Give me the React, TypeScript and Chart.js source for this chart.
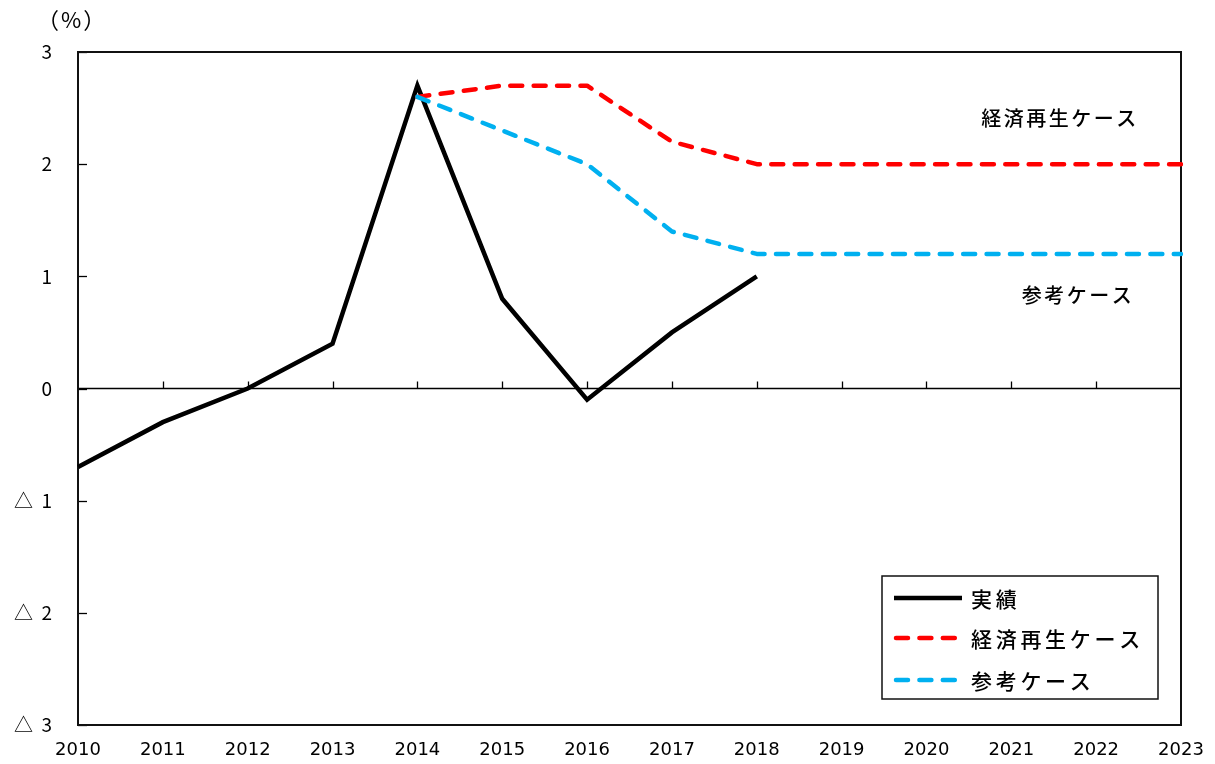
import React, { useEffect, useRef } from 'react';
import { Chart, registerables } from 'chart.js';

Chart.register(...registerables);

const years = ['2010', '2011', '2012', '2013', '2014', '2015', '2016', '2017', '2018', '2019', '2020', '2021', '2022', '2023'];
const actualValues = [-0.7, -0.3, 0.0, 0.4, 2.7, 0.8, -0.1, 0.5, 1.0, null, null, null, null, null];
const revivalValues = [null, null, null, null, 2.6, 2.7, 2.7, 2.2, 2.0, 2.0, 2.0, 2.0, 2.0, 2.0];
const referenceValues = [null, null, null, null, 2.6, 2.3, 2.0, 1.4, 1.2, 1.2, 1.2, 1.2, 1.2, 1.2];
const seriesNames = ['実績', '経済再生ケース', '参考ケース'];
const seriesColors = ['#000000', '#FF0000', '#00B0F0'];
const yMin = -3;
const yMax = 3;
const unitLabel = '（%）';
const annotationLabels = ['経済再生ケース', '参考ケース'];

const NUM_FONT = "'DejaVu Sans', 'Noto Sans CJK JP', sans-serif";
const JP_FONT = "'Noto Sans CJK JP', 'Noto Sans', sans-serif";

const decorPlugin = {
  id: 'decor',
  beforeDatasetsDraw(chart: any) {
    const { ctx, chartArea } = chart;
    const xs = chart.scales.x;
    const ys = chart.scales.y;
    const y0 = ys.getPixelForValue(0);
    ctx.save();
    ctx.strokeStyle = '#000';
    ctx.lineWidth = 1.5;
    ctx.beginPath();
    ctx.moveTo(chartArea.left, y0);
    ctx.lineTo(chartArea.right, y0);
    ctx.stroke();
    ctx.lineWidth = 1.3;
    for (let i = 1; i < years.length - 1; i++) {
      const x = Math.round(xs.getPixelForValue(i)) + 0.5;
      ctx.beginPath();
      ctx.moveTo(x, y0);
      ctx.lineTo(x, y0 - 7);
      ctx.stroke();
    }
    for (let v = yMin; v <= yMax; v++) {
      const y = Math.round(ys.getPixelForValue(v)) + 0.5;
      ctx.beginPath();
      ctx.moveTo(chartArea.left, y);
      ctx.lineTo(chartArea.left + 9, y);
      ctx.stroke();
    }
    ctx.lineWidth = 2;
    ctx.strokeStyle = '#111';
    ctx.strokeRect(chartArea.left, chartArea.top, chartArea.right - chartArea.left, chartArea.bottom - chartArea.top);
    ctx.restore();
  },
  afterDraw(chart: any) {
    const { ctx } = chart;
    ctx.save();
    ctx.fillStyle = '#000';
    ctx.font = `22px ${JP_FONT}`;
    (ctx as any).letterSpacing = '2px';
    ctx.textAlign = 'left';
    ctx.textBaseline = 'middle';
    ctx.fillText(unitLabel, 37, 20);

    ctx.font = `500 20px ${JP_FONT}`;
    (ctx as any).letterSpacing = '2.5px';
    ctx.textAlign = 'center';
    ctx.fillText(annotationLabels[0], 1060, 118);
    ctx.fillText(annotationLabels[1], 1078, 295);

    const lx = 882, ly = 576, lw = 276, lh = 123;
    ctx.fillStyle = '#fff';
    ctx.fillRect(lx, ly, lw, lh);
    ctx.strokeStyle = '#111';
    ctx.lineWidth = 1.5;
    ctx.strokeRect(lx, ly, lw, lh);
    const rows = [598, 638, 680];
    chart.data.datasets.forEach((ds: any, i: number) => {
      const y = rows[i];
      ctx.save();
      ctx.strokeStyle = ds.borderColor;
      ctx.lineWidth = ds.borderWidth;
      ctx.lineCap = i === 0 ? 'butt' : 'round';
      ctx.setLineDash(ds.borderDash || []);
      ctx.beginPath();
      ctx.moveTo(i === 0 ? 894 : 896, y);
      ctx.lineTo(962, y);
      ctx.stroke();
      ctx.restore();
      ctx.fillStyle = '#000';
      ctx.font = `500 21px ${JP_FONT}`;
      (ctx as any).letterSpacing = '3.7px';
      ctx.textAlign = 'left';
      ctx.textBaseline = 'middle';
      ctx.fillText(ds.label, 971, y + 1);
    });
    ctx.restore();
  },
};

export default function App() {
  const ref = useRef<HTMLCanvasElement | null>(null);
  useEffect(() => {
    if (!ref.current) return;
    const chart = new Chart(ref.current, {
      type: 'line',
      data: {
        labels: years,
        datasets: [
          {
            label: seriesNames[0],
            data: actualValues,
            borderColor: seriesColors[0],
            backgroundColor: seriesColors[0],
            borderWidth: 4.5,
            pointRadius: 0,
            tension: 0,
            borderJoinStyle: 'miter',
            order: 3,
          },
          {
            label: seriesNames[1],
            data: revivalValues,
            borderColor: seriesColors[1],
            backgroundColor: seriesColors[1],
            borderWidth: 4.5,
            borderDash: [12, 11.4],
            borderCapStyle: 'round',
            borderJoinStyle: 'round',
            pointRadius: 0,
            tension: 0,
            order: 2,
          },
          {
            label: seriesNames[2],
            data: referenceValues,
            borderColor: seriesColors[2],
            backgroundColor: seriesColors[2],
            borderWidth: 4.5,
            borderDash: [12, 11.4],
            borderCapStyle: 'round',
            borderJoinStyle: 'round',
            pointRadius: 0,
            tension: 0,
            order: 1,
          },
        ],
      },
      options: {
        responsive: false,
        animation: false,
        layout: { padding: { left: 0, top: 52, right: 0, bottom: 0 } },
        plugins: {
          legend: { display: false },
          tooltip: { enabled: false },
          title: { display: false },
        },
        scales: {
          x: {
            type: 'category',
            offset: false,
            grid: { display: false, drawTicks: false },
            border: { display: false },
            ticks: {
              autoSkip: false,
              maxRotation: 0,
              minRotation: 0,
              padding: 15,
              color: '#000',
              font: { family: NUM_FONT, size: 18 },
            },
            afterFit(scale: any) {
              scale.height = 39;
              scale.paddingLeft = 0;
              scale.paddingRight = 34;
            },
          },
          y: {
            min: yMin,
            max: yMax,
            grid: { display: false, drawTicks: false },
            border: { display: false },
            ticks: {
              stepSize: 1,
              padding: 26,
              color: '#000',
              font: { family: JP_FONT, size: 19 },
              callback: (v: any) => (Number(v) < 0 ? `△  ${Math.abs(Number(v))}` : `${v}`),
            },
            afterFit(scale: any) {
              scale.width = 78;
            },
          },
        },
      },
      plugins: [decorPlugin],
    } as any);
    return () => chart.destroy();
  }, []);
  return (
    <div style={{ position: 'absolute', left: 0, top: 0, width: 1215, height: 764, background: '#fff' }}>
      <canvas ref={ref} width={1215} height={764} style={{ display: 'block' }} />
    </div>
  );
}
